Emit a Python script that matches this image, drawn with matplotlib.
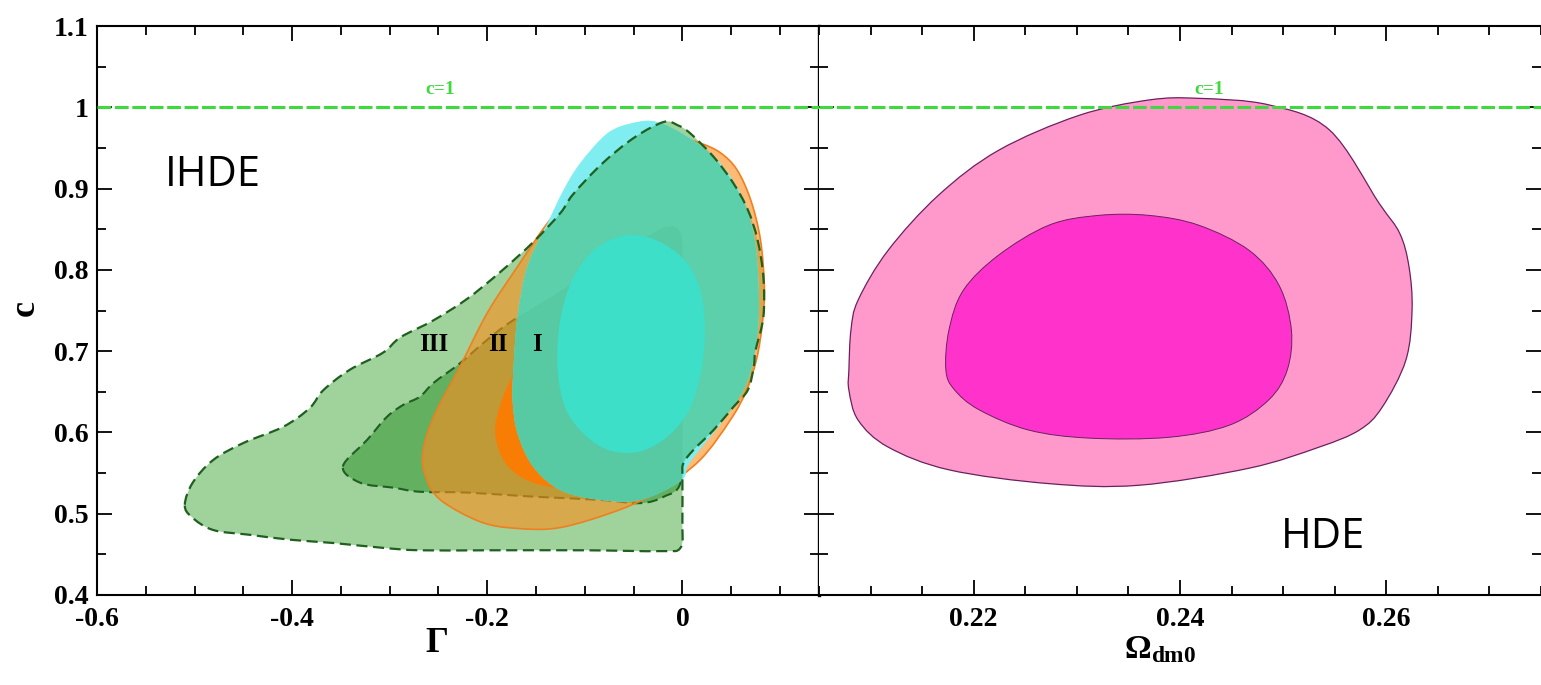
import numpy as np
import matplotlib.pyplot as plt
from matplotlib.path import Path
from matplotlib.patches import PathPatch
from matplotlib.ticker import MultipleLocator, FormatStrFormatter

plt.rcParams['font.family'] = ['Liberation Serif', 'DejaVu Serif']
plt.rcParams['font.weight'] = 'bold'
plt.rcParams['axes.unicode_minus'] = False
plt.rcParams['mathtext.fontset'] = 'custom'
plt.rcParams['mathtext.bf'] = 'Liberation Serif:bold'
plt.rcParams['mathtext.rm'] = 'Liberation Serif:bold'

# ---- IHDE confidence contours in the (Gamma, c) plane ----
# model III, outer (dashed dark green)
g3_out_x = [-0.510, -0.502, -0.481, -0.450, -0.409, -0.382, -0.368, -0.341, -0.307, -0.289,
            -0.255, -0.221, -0.187, -0.153, -0.125, -0.112, -0.082, -0.049, -0.019, -0.005,
            0.008, 0.032, 0.052, 0.067, 0.077, 0.083, 0.083, 0.075, 0.073, 0.067,
            0.052, 0.032, 0.011, 0.001, 0.000, 0.000, -0.002, -0.023, -0.100, -0.200,
            -0.269, -0.307, -0.358, -0.402, -0.443, -0.481, -0.503]
c3_out = [0.511, 0.538, 0.566, 0.587, 0.607, 0.630, 0.652, 0.677, 0.698, 0.717,
          0.738, 0.764, 0.797, 0.834, 0.870, 0.893, 0.931, 0.963, 0.982, 0.978,
          0.968, 0.939, 0.907, 0.874, 0.837, 0.791, 0.742, 0.701, 0.680, 0.652,
          0.631, 0.603, 0.578, 0.562, 0.545, 0.490, 0.458, 0.454, 0.455, 0.455,
          0.455, 0.458, 0.464, 0.468, 0.474, 0.480, 0.496]
# model III, inner
g3_in_x = [-0.348, -0.323, -0.303, -0.286, -0.269, -0.255, -0.228, -0.204, -0.176, -0.130,
           -0.080, -0.040, -0.016, -0.002, 0.000, 0.000, 0.000, -0.002, -0.019, -0.043,
           -0.084, -0.153, -0.221, -0.269, -0.296, -0.330]
c3_in = [0.558, 0.591, 0.619, 0.634, 0.644, 0.661, 0.685, 0.710, 0.736, 0.770,
         0.810, 0.838, 0.853, 0.845, 0.800, 0.700, 0.600, 0.538, 0.521, 0.513,
         0.517, 0.521, 0.526, 0.527, 0.532, 0.538]
# model II, outer (orange)
g2_out_x = [-0.248, -0.263, -0.266, -0.255, -0.228, -0.200, -0.169, -0.138, -0.105, -0.070,
            -0.035, -0.005, 0.018, 0.039, 0.056, 0.070, 0.080, 0.084, 0.082, 0.076,
            0.065, 0.049, 0.018, -0.023, -0.064, -0.125, -0.170, -0.207]
c2_out = [0.517, 0.545, 0.575, 0.619, 0.681, 0.747, 0.804, 0.858, 0.905, 0.940,
          0.958, 0.962, 0.956, 0.944, 0.923, 0.886, 0.837, 0.779, 0.735, 0.690,
          0.650, 0.615, 0.566, 0.529, 0.505, 0.483, 0.482, 0.490]
# model II, inner
g2_in_x = [-0.192, -0.185, -0.170, -0.150, -0.125, -0.090, -0.050, -0.010, 0.020, 0.035,
           0.035, 0.020, -0.010, -0.050, -0.100, -0.150, -0.180]
c2_in = [0.600, 0.640, 0.680, 0.730, 0.780, 0.820, 0.840, 0.830, 0.790, 0.740,
         0.680, 0.620, 0.575, 0.545, 0.530, 0.537, 0.560]
# model I, outer (cyan)
g1_out_x = [-0.174, -0.173, -0.169, -0.159, -0.138, -0.122, -0.105, -0.077, -0.050, -0.026,
            0.005, 0.036, 0.059, 0.073, 0.078, 0.077, 0.066, 0.040, 0.022, 0.006,
            -0.002, -0.043, -0.084, -0.125, -0.153, -0.169]
c1_out = [0.640, 0.681, 0.742, 0.804, 0.858, 0.898, 0.931, 0.968, 0.981, 0.982,
          0.964, 0.935, 0.895, 0.845, 0.784, 0.722, 0.661, 0.612, 0.585, 0.560,
          0.540, 0.517, 0.517, 0.529, 0.558, 0.599]
# model I, inner
g1_in_x = [-0.128, -0.125, -0.112, -0.090, -0.060, -0.030, 0.000, 0.017, 0.023, 0.020,
           0.008, -0.015, -0.045, -0.075, -0.100, -0.120]
c1_in = [0.680, 0.740, 0.790, 0.825, 0.842, 0.838, 0.815, 0.780, 0.735, 0.680,
         0.630, 0.595, 0.576, 0.578, 0.597, 0.630]

# ---- HDE confidence contours in the (Omega_dm0, c) plane ----
om_out = [0.2079, 0.2081, 0.2088, 0.2117, 0.2166, 0.2224, 0.2302, 0.2370, 0.2418, 0.2486,
          0.2545, 0.2593, 0.2613, 0.2622, 0.2625, 0.2619, 0.2596, 0.2574, 0.2535, 0.2467,
          0.2360, 0.2273, 0.2176, 0.2117, 0.2088, 0.2079]
ch_out = [0.677, 0.726, 0.763, 0.824, 0.892, 0.947, 0.990, 1.009, 1.011, 1.003,
          0.972, 0.882, 0.845, 0.804, 0.751, 0.689, 0.631, 0.603, 0.582, 0.556,
          0.535, 0.537, 0.554, 0.582, 0.615, 0.652]
om_in = [0.2173, 0.2176, 0.2190, 0.2224, 0.2273, 0.2321, 0.2370, 0.2418, 0.2467, 0.2496,
         0.2508, 0.2504, 0.2486, 0.2448, 0.2389, 0.2312, 0.2253, 0.2205, 0.2181]
ch_in = [0.677, 0.726, 0.775, 0.818, 0.855, 0.867, 0.867, 0.855, 0.824, 0.781,
         0.726, 0.677, 0.640, 0.609, 0.594, 0.593, 0.603, 0.628, 0.653]

roman_labels = ['III', 'II', 'I']
roman_x = [-0.255, -0.189, -0.149]
roman_y = 0.708


def smooth(ax, x, y, **kw):
    # closed Catmull-Rom outline through the traced points, drawn as cubic Beziers
    p = np.column_stack([x, y])
    n = len(p)
    verts = [p[0]]
    codes = [Path.MOVETO]
    for i in range(n):
        p0, p1, p2, p3 = p[i - 1], p[i], p[(i + 1) % n], p[(i + 2) % n]
        verts += [p1 + (p2 - p0) / 6, p2 - (p3 - p1) / 6, p2]
        codes += [Path.CURVE4] * 3
    verts.append(p[0])
    codes.append(Path.CLOSEPOLY)
    patch = PathPatch(Path(verts, codes), **kw)
    ax.add_patch(patch)
    return patch


W, H = 1541, 685
fig = plt.figure(figsize=(W / 100, H / 100), dpi=100)
ax1 = fig.add_axes([97 / W, 90 / H, 722 / W, 569 / H])
ax2 = fig.add_axes([819 / W, 90 / H, 722 / W, 569 / H])

# left panel: IHDE
dash = (0, (5, 2.5))
smooth(ax1, g3_out_x, c3_out, facecolor='#a0d39b', edgecolor='none', zorder=1)
smooth(ax1, g3_in_x, c3_in, facecolor='#63b060', edgecolor='none', zorder=1.1)
smooth(ax1, g3_in_x, c3_in, facecolor='none', edgecolor='#1f5f1f', lw=1.5,
       linestyle=dash, zorder=1.2)
smooth(ax1, g2_out_x, c2_out, facecolor='#ff8c1a', alpha=0.6, edgecolor='none', zorder=2)
smooth(ax1, g2_out_x, c2_out, facecolor='none', edgecolor='#ee8020', lw=1.2, zorder=2.1)
smooth(ax1, g2_in_x, c2_in, facecolor='#ff7a00', alpha=0.9, edgecolor='none', zorder=2.2)
cyan = smooth(ax1, g1_out_x, c1_out, facecolor='#80eef0', edgecolor='none', zorder=3)
teal = smooth(ax1, g3_out_x, c3_out, facecolor='#5ccfab', edgecolor='none', zorder=3.1)
teal.set_clip_path(cyan)
teal_in = smooth(ax1, g3_in_x, c3_in, facecolor='#57c9a3', edgecolor='none', zorder=3.2)
teal_in.set_clip_path(cyan)
smooth(ax1, g1_in_x, c1_in, facecolor='#3ddfc8', edgecolor='none', zorder=3.5)
smooth(ax1, g3_out_x, c3_out, facecolor='none', edgecolor='#1f5f1f', lw=1.6,
       linestyle=dash, zorder=4)

for lab, xr in zip(roman_labels, roman_x):
    ax1.text(xr, roman_y, lab, fontsize=18, ha='center', va='center', zorder=5)

ax1.text(-0.530, 0.917, 'IHDE', family='Open Sans', fontweight='normal', fontsize=30,
         va='center', ha='left')

# right panel: HDE
smooth(ax2, om_out, ch_out, facecolor='#ff99cc', edgecolor='#6a2060', lw=0.9, zorder=1)
smooth(ax2, om_in, ch_in, facecolor='#ff33cc', edgecolor='#6a2060', lw=0.7, zorder=2)
ax2.text(0.2498, 0.4715, 'HDE', family='Open Sans', fontweight='normal', fontsize=30,
         va='center', ha='left')

# c = 1 reference line
for ax, xt in ((ax1, -0.248), (ax2, 0.2428)):
    ax.axhline(1.0, color='#3fd83f', lw=2.2, dashes=(4.5, 1.2), zorder=6)
    ax.text(xt, 1.022, 'c=1', color='#3fd83f', fontsize=14, ha='center', va='center')

ax1.set_xlim(-0.6, 0.14)
ax2.set_xlim(0.205, 0.275)
for ax in (ax1, ax2):
    ax.set_ylim(0.4, 1.1)
    ax.yaxis.set_major_locator(MultipleLocator(0.1))
    ax.yaxis.set_minor_locator(MultipleLocator(0.05))
    ax.tick_params(which='both', direction='in', top=True, right=True, width=1.3,
                   labelsize=20, color='black')
    ax.tick_params(which='major', length=11)
    ax.tick_params(which='minor', length=6.5)
    for s in ax.spines.values():
        s.set_linewidth(1.5)

ax1.xaxis.set_major_locator(MultipleLocator(0.2))
ax1.xaxis.set_minor_locator(MultipleLocator(0.05))
ax1.xaxis.set_major_formatter(FormatStrFormatter('%g'))
ax1.yaxis.set_major_formatter(FormatStrFormatter('%g'))
ax1.tick_params(axis='x', pad=9)
ax1.tick_params(axis='y', pad=6)
ax1.spines['right'].set_linewidth(2.4)

ax2.xaxis.set_major_locator(MultipleLocator(0.02))
ax2.xaxis.set_minor_locator(MultipleLocator(0.005))
ax2.xaxis.set_major_formatter(FormatStrFormatter('%g'))
ax2.tick_params(axis='x', pad=9)
ax2.tick_params(axis='y', labelleft=False)
ax2.spines['left'].set_visible(False)
ax2.spines['right'].set_visible(False)

fig.text(437 / W, 1 - 644 / H, 'Γ', fontsize=26, ha='center', va='center')
fig.text(1160 / W, 1 - 650 / H, r'$\mathbf{\Omega_{dm0}}$', fontsize=24, ha='center', va='center')
fig.text(25 / W, 1 - 308 / H, 'c', fontsize=26, rotation=90, ha='center', va='center')

fig.savefig('out.png', dpi=100, facecolor='white')
